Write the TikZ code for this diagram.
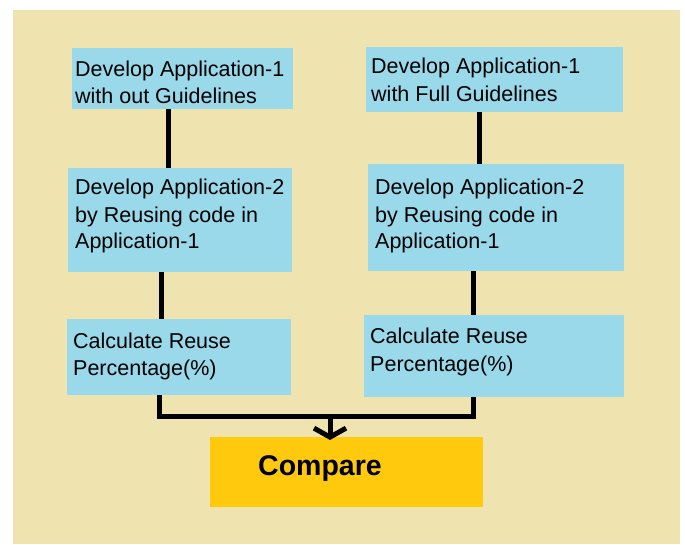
\documentclass[tikz,border=0pt]{standalone}
\usepackage{fontspec}
\setmainfont{Liberation Sans}
\usetikzlibrary{arrows.meta}
\definecolor{bg}{RGB}{239,228,176}
\definecolor{boxblue}{RGB}{153,217,234}
\definecolor{gold}{RGB}{255,201,14}
\begin{document}
\begin{tikzpicture}[x=1pt,y=-1pt,
  box/.style={fill=boxblue, draw=none, inner sep=0pt, outer sep=0pt, anchor=north west},
  lbl/.style={anchor=base west, inner sep=0pt, font=\fontsize{21.5}{26}\selectfont},
  conn/.style={line width=5pt, draw=black}]
\useasboundingbox (0,0) rectangle (685,544);
\fill[bg] (13,10) rectangle (680,544);
% boxes
\node[box, minimum width=221pt, minimum height=61pt] (a1) at (72,48) {};
\node[box, minimum width=224pt, minimum height=104pt] (a2) at (68,168) {};
\node[box, minimum width=224pt, minimum height=76pt] (a3) at (67,319) {};
\node[box, minimum width=257pt, minimum height=65pt] (b1) at (366,47) {};
\node[box, minimum width=256pt, minimum height=107pt] (b2) at (368,164) {};
\node[box, minimum width=260pt, minimum height=82pt] (b3) at (364,315) {};
\node[box, fill=gold, minimum width=273pt, minimum height=70pt] (cmp) at (210,437) {};
% texts
\node[lbl] (a1t1) at (75,76) {Develop Application-1};
\node[lbl] (a1t2) at (75,103) {with out Guidelines};
\node[lbl] (a2t1) at (75,194) {Develop Application-2};
\node[lbl] (a2t2) at (75,222) {by Reusing code in};
\node[lbl] (a2t3) at (75,248) {Application-1};
\node[lbl] (a3t1) at (73,348) {Calculate Reuse};
\node[lbl] (a3t2) at (73,375) {Percentage(\%)};
\node[lbl] (b1t1) at (371,73) {Develop Application-1};
\node[lbl] (b1t2) at (371,101) {with Full Guidelines};
\node[lbl] (b2t1) at (375,194) {Develop Application-2};
\node[lbl] (b2t2) at (375,222) {by Reusing code in};
\node[lbl] (b2t3) at (375,248) {Application-1};
\node[lbl] (b3t1) at (370,343) {Calculate Reuse};
\node[lbl] (b3t2) at (370,371) {Percentage(\%)};
\node[lbl, font=\fontsize{28.5}{32}\selectfont\bfseries] (cmpt) at (258,475) {Compare};
% connectors
\draw[conn] (a1.south -| 168,0) -- (a2.north -| 168,0);
\draw[conn] (a2.south -| 161,0) -- (a3.north -| 161,0);
\draw[conn] (b1.south -| 479,0) -- (b2.north -| 479,0);
\draw[conn] (b2.south -| 473,0) -- (b3.north -| 473,0);
\coordinate (jl) at (159,416);
\coordinate (jr) at (473,416);
\coordinate (jm) at (330,416);
\draw[conn] (a3.south -| jl) -- (jl) -- (jr) -- (b3.south -| jr);
\draw[conn, -{Straight Barb[length=9pt,width=32pt]}] (jm) -- ([yshift=-3pt]cmp.north -| jm);
\end{tikzpicture}
\end{document}
